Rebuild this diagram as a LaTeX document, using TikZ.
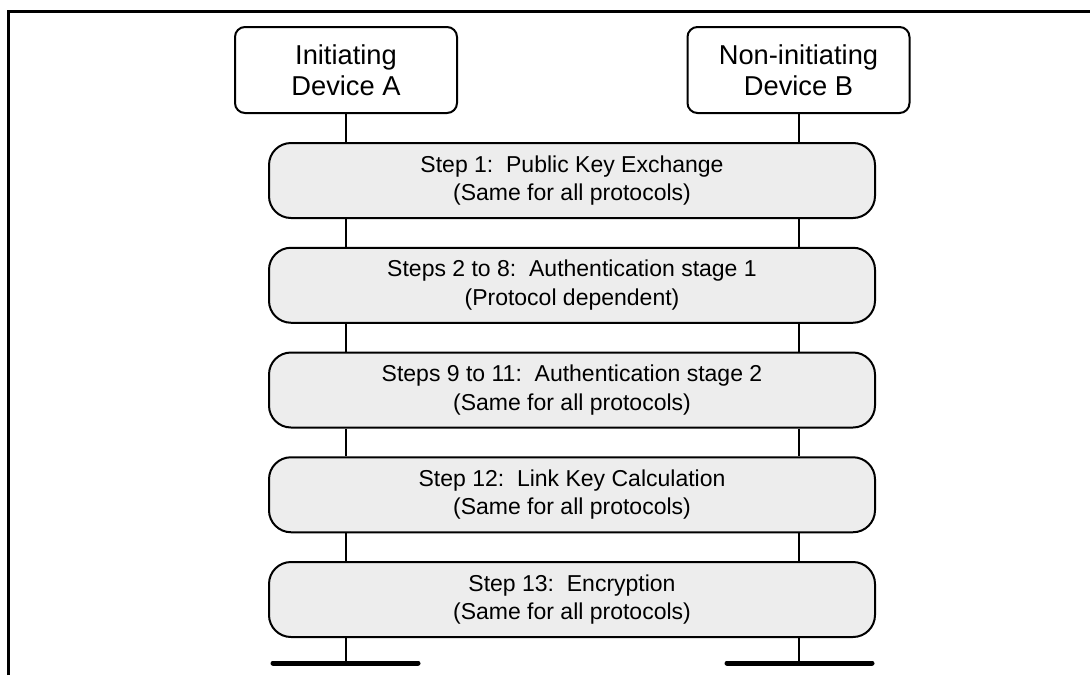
\documentclass[tikz,border=0pt]{standalone}
\usepackage{fontspec}
\setmainfont{Liberation Sans}
\definecolor{stepgrey}{HTML}{EDEDED}
\begin{document}
\begin{tikzpicture}[x=1pt,y=-1pt,
  devbox/.style={draw=black, line width=2pt, rounded corners=10pt, minimum width=222pt, minimum height=86pt, align=center, font=\fontsize{27.3}{31}\selectfont, inner sep=0pt},
  stepbox/.style={draw=black, line width=2pt, fill=stepgrey, rounded corners=22pt, minimum width=606pt, minimum height=75pt, align=center, font=\fontsize{23}{28.5}\selectfont, inner sep=0pt},
  life/.style={line width=2pt},
  bar/.style={line width=5pt, line cap=round},
  frame/.style={line width=3pt}]
\useasboundingbox (0,0) rectangle (1090,675);
% frame
\draw[frame] (8.5,675) -- (8.5,11.3) -- (1090,11.3);
% devices
\node[devbox] (devA) at (346,70) {Initiating\\Device A};
\node[devbox] (devB) at (798.5,70) {Non-initiating\\Device B};
% steps
\node[stepbox] (s1) at (572,180.5) {Step 1:\ \ Public Key Exchange\\(Same for all protocols)};
\node[stepbox] (s2) at (572,285.25) {Steps 2 to 8:\ \ Authentication stage 1\\(Protocol dependent)};
\node[stepbox] (s3) at (572,390) {Steps 9 to 11:\ \ Authentication stage 2\\(Same for all protocols)};
\node[stepbox] (s4) at (572,494.75) {Step 12:\ \ Link Key Calculation\\(Same for all protocols)};
\node[stepbox] (s5) at (572,599.5) {Step 13:\ \ Encryption\\(Same for all protocols)};
% lifeline ends
\coordinate (endA) at (345.5,663);
\coordinate (endB) at (798.5,663);
\coordinate (barAl) at (273,663);
\coordinate (barAr) at (418,663);
\coordinate (barBl) at (727,663);
\coordinate (barBr) at (872,663);
% lifelines
\foreach \d/\e in {devA/endA, devB/endB}{
  \draw[life] (\d.south -| \e) -- (s1.north -| \e);
  \draw[life] (s1.south -| \e) -- (s2.north -| \e);
  \draw[life] (s2.south -| \e) -- (s3.north -| \e);
  \draw[life] (s3.south -| \e) -- (s4.north -| \e);
  \draw[life] (s4.south -| \e) -- (s5.north -| \e);
  \draw[life] (s5.south -| \e) -- (\e);
}
\draw[bar] (barAl) -- (barAr);
\draw[bar] (barBl) -- (barBr);
\end{tikzpicture}
\end{document}
